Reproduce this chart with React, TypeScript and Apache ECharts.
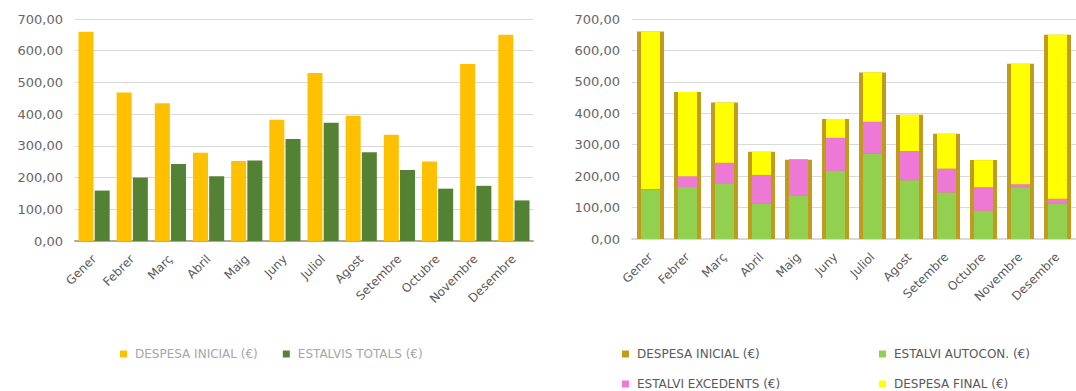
import React, { useEffect, useRef } from "react";
import * as echarts from "echarts";

const months = ["Gener", "Febrer", "Març", "Abril", "Maig", "Juny", "Juliol", "Agost", "Setembre", "Octubre", "Novembre", "Desembre"];
const despesaInicial = [660, 468, 434, 278, 252, 382, 530, 395, 335, 251, 558, 650];
const estalvisTotals = [159, 200, 243, 204, 254, 322, 373, 280, 224, 165, 174, 128];
const estalviAutocon = [157, 166, 175, 112, 137, 217, 271, 187, 148, 90, 165, 112];
const estalviExcedents = [2, 34, 68, 92, 117, 105, 102, 93, 76, 75, 9, 16];
const despesaFinal = [501, 268, 191, 74, 0, 60, 157, 115, 111, 86, 384, 522];
const yTicks = { min: 0, max: 700, interval: 100 };

const N_INI = "DESPESA INICIAL (€)";
const N_TOT = "ESTALVIS TOTALS (€)";
const N_AUTO = "ESTALVI AUTOCON. (€)";
const N_EXC = "ESTALVI EXCEDENTS (€)";
const N_FIN = "DESPESA FINAL (€)";

const C_YEL = "#FFC000";
const C_DGREEN = "#548235";
const C_GOLD = "#C19B1C";
const C_LGREEN = "#92D050";
const C_PINK = "#EE78D6";
const C_FIN = "#FFFF00";

const FONT = "DejaVu Sans";

export default function App() {
  const ref = useRef<HTMLDivElement>(null);
  useEffect(() => {
    if (!ref.current) return;
    const chart = echarts.init(ref.current, null, { renderer: "svg" });
    const fmt = (v: number) => v.toFixed(2).replace(".", ",");
    const yAxis = (gi: number) => ({
      type: "value",
      gridIndex: gi,
      ...yTicks,
      axisLabel: { formatter: fmt, color: "#666", fontSize: 13, fontFamily: FONT, margin: 12 },
      splitLine: { lineStyle: { color: "#d9d9d9", width: 1 } },
      axisLine: { show: false },
      axisTick: { show: false },
    });
    const xAxis = (gi: number, show = true, lineColor = "#bfbfbf") => ({
      type: "category",
      gridIndex: gi,
      data: months,
      show,
      axisTick: { show: false },
      axisLine: { show: true, lineStyle: { color: lineColor, width: 2 } },
      axisLabel: { rotate: 45, interval: 0, color: "#595959", fontSize: 12, fontFamily: FONT, margin: 16 },
    });
    const legendBase = {
      orient: "horizontal",
      icon: "rect",
      itemWidth: 7,
      itemHeight: 7,
      itemGap: 25,
      textStyle: { fontSize: 12, fontFamily: FONT, color: "#595959", padding: [0, 0, 0, 3] },
    };
    chart.setOption({
      animation: false,
      grid: [
        { left: 75, width: 458, top: 19, height: 222 },
        { left: 632, width: 450, top: 19, height: 220 },
      ],
      xAxis: [xAxis(0, true, "#b0a898"), xAxis(1, true, "#d9d9d9"), xAxis(1, false)],
      yAxis: [yAxis(0), yAxis(1)],
      legend: [
        { ...legendBase, left: 115, top: 343, data: [N_INI, N_TOT], textStyle: { ...legendBase.textStyle, color: "#a6a6a6" } },
        { ...legendBase, left: 617, top: 343, data: [{ name: N_INI, itemStyle: { color: C_GOLD } }] },
        { ...legendBase, left: 874, top: 343, data: [N_AUTO] },
        { ...legendBase, left: 617, top: 373, data: [N_EXC] },
        { ...legendBase, left: 874, top: 373, data: [N_FIN] },
      ],
      series: [
        { type: "bar", name: N_INI, xAxisIndex: 0, yAxisIndex: 0, data: despesaInicial, barWidth: 15, barGap: "8%", itemStyle: { color: C_YEL } },
        { type: "bar", name: N_TOT, xAxisIndex: 0, yAxisIndex: 0, data: estalvisTotals, barWidth: 15, barGap: "8%", itemStyle: { color: C_DGREEN } },
        { type: "bar", name: N_INI, xAxisIndex: 2, yAxisIndex: 1, data: despesaInicial, barWidth: 27, itemStyle: { color: C_GOLD } },
        { type: "bar", name: N_AUTO, xAxisIndex: 1, yAxisIndex: 1, stack: "s", data: estalviAutocon, barWidth: 19, itemStyle: { color: C_LGREEN } },
        { type: "bar", name: N_EXC, xAxisIndex: 1, yAxisIndex: 1, stack: "s", data: estalviExcedents, barWidth: 19, itemStyle: { color: C_PINK } },
        { type: "bar", name: N_FIN, xAxisIndex: 1, yAxisIndex: 1, stack: "s", data: despesaFinal, barWidth: 19, itemStyle: { color: C_FIN } },
      ],
    });
    return () => chart.dispose();
  }, []);
  return (
    <div
      ref={ref}
      style={{ position: "fixed", left: 0, top: 0, width: 1076, height: 391, background: "#fff" }}
    />
  );
}
